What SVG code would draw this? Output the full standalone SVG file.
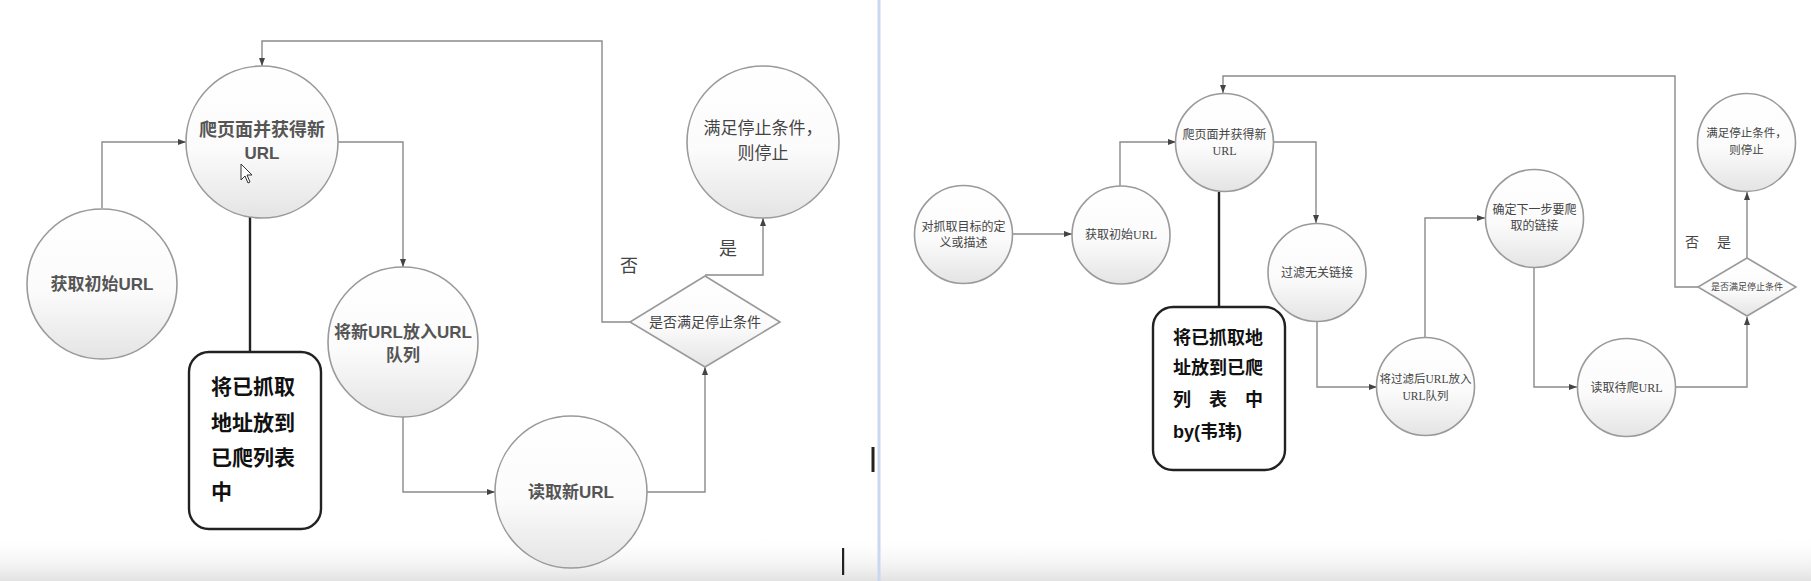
<svg xmlns="http://www.w3.org/2000/svg" width="1811" height="581" viewBox="0 0 1811 581">
<defs>
<linearGradient id="cg" x1="0" y1="0" x2="0" y2="1">
<stop offset="0" stop-color="#ffffff"/>
<stop offset="0.55" stop-color="#fbfbfb"/>
<stop offset="1" stop-color="#e4e4e4"/>
</linearGradient>
<linearGradient id="bg" x1="0" y1="0" x2="0" y2="1">
<stop offset="0" stop-color="#ffffff" stop-opacity="0"/>
<stop offset="1" stop-color="#e2e2e2"/>
</linearGradient>
<marker id="ah" markerUnits="userSpaceOnUse" markerWidth="8" markerHeight="6" refX="8" refY="3" orient="auto">
<path d="M0,0 L8,3 L0,6 z" fill="#444"/>
</marker>
<style>
.nd{fill:url(#cg);stroke:#9a9a9a;stroke-width:1.6}
.cn{fill:none;stroke:#8a8a8a;stroke-width:1.4}
.ar{marker-end:url(#ah)}
.tie{fill:none;stroke:#222;stroke-width:2.4}
.note{fill:#fff;stroke:#222;stroke-width:2.4}
.ts{font-family:"Liberation Sans","Noto Sans CJK SC",sans-serif;fill:#555;text-anchor:middle;font-weight:bold}
.tr{font-family:"Liberation Serif","Noto Sans CJK SC",serif;fill:#444;text-anchor:middle}
.tn{font-family:"Liberation Sans","Noto Sans CJK SC",sans-serif;fill:#111;font-weight:bold}
</style>
</defs>
<rect x="0" y="0" width="1811" height="581" fill="#ffffff"/>
<rect x="0" y="535" width="1811" height="46" fill="url(#bg)"/>
<rect x="877.5" y="0" width="3" height="581" fill="#c9d7ef"/>
<rect x="871.5" y="447" width="3" height="25" fill="#222"/>
<rect x="842" y="548" width="2.2" height="27" fill="#222"/>

<g id="connectors">
<path class="cn ar" d="M102,208 V142 H186"/>
<path class="cn ar" d="M337,142 H403 V267"/>
<path class="cn ar" d="M403,417 V492 H495"/>
<path class="cn ar" d="M647,492 H705 V367"/>
<path class="cn ar" d="M705,275 H763 V218"/>
<path class="cn ar" d="M630,322 H602 V41 H262 V66"/>
<path class="tie" d="M250,217 V352"/>

<path class="cn ar" d="M1013,234 H1072"/>
<path class="cn ar" d="M1120,186 V142 H1176"/>
<path class="cn ar" d="M1273,142 H1316 V223"/>
<path class="cn ar" d="M1317,322 V387 H1377"/>
<path class="cn ar" d="M1425,338 V218 H1485"/>
<path class="cn ar" d="M1534,268 V387 H1577"/>
<path class="cn ar" d="M1676,387 H1747 V317"/>
<path class="cn ar" d="M1747,258 V192"/>
<path class="cn ar" d="M1698,287 H1675 V76 H1223 V93"/>
<path class="tie" d="M1219,192 V307"/>
</g>

<!-- Left panel -->
<g id="L_crawl">
<circle class="nd" cx="262" cy="142" r="76"/>
<text class="ts" x="262" y="136" font-size="18">爬页面并获得新</text>
<text class="ts" x="262" y="159" font-size="17">URL</text>
</g>
<g id="L_init">
<circle class="nd" cx="102" cy="284" r="75"/>
<text class="ts" x="102" y="290" font-size="17">获取初始URL</text>
</g>
<g id="L_queue">
<circle class="nd" cx="403" cy="342" r="75"/>
<text class="ts" x="403" y="338" font-size="17">将新URL放入URL</text>
<text class="ts" x="403" y="361" font-size="17">队列</text>
</g>
<g id="L_read">
<circle class="nd" cx="571" cy="492" r="76"/>
<text class="ts" x="571" y="498" font-size="17">读取新URL</text>
</g>
<g id="L_cond">
<polygon class="nd" points="705,276 780,322 705,367 630,322"/>
<text class="tr" x="705" y="327" font-size="14">是否满足停止条件</text>
</g>
<g id="L_stop">
<circle class="nd" cx="763" cy="142" r="76"/>
<text class="tr" x="763" y="134" font-size="17">满足停止条件，</text>
<text class="tr" x="763" y="159" font-size="17">则停止</text>
</g>
<g id="L_labels">
<text class="tr" x="629" y="272" font-size="18">否</text>
<text class="tr" x="728" y="255" font-size="18">是</text>
</g>
<g id="L_note">
<rect class="note" x="189" y="352" width="132" height="177" rx="20" ry="20"/>
<text class="tn" x="211" y="394" font-size="21">将已抓取</text>
<text class="tn" x="211" y="430" font-size="21">地址放到</text>
<text class="tn" x="211" y="465" font-size="21">已爬列表</text>
<text class="tn" x="211" y="499" font-size="21">中</text>
</g>
<g id="cursor">
<path d="M241,164 L241,180 L245,176 L248,183 L250,182 L247,175 L252,175 Z" fill="#fff" stroke="#333" stroke-width="1"/>
</g>

<!-- Right panel -->
<g id="R_goal">
<circle class="nd" cx="963.5" cy="234.5" r="49"/>
<text class="tr" x="963.5" y="231" font-size="12">对抓取目标的定</text>
<text class="tr" x="963.5" y="247" font-size="12">义或描述</text>
</g>
<g id="R_init">
<circle class="nd" cx="1121" cy="235" r="49"/>
<text class="tr" x="1121" y="239" font-size="12">获取初始URL</text>
</g>
<g id="R_crawl">
<circle class="nd" cx="1224.5" cy="142.5" r="49"/>
<text class="tr" x="1224.5" y="139" font-size="12">爬页面并获得新</text>
<text class="tr" x="1224.5" y="155" font-size="12">URL</text>
</g>
<g id="R_filter">
<circle class="nd" cx="1317" cy="272.5" r="49"/>
<text class="tr" x="1317" y="277" font-size="12">过滤无关链接</text>
</g>
<g id="R_queue">
<circle class="nd" cx="1425.5" cy="386.5" r="49"/>
<text class="tr" x="1425.5" y="383" font-size="11.5">将过滤后URL放入</text>
<text class="tr" x="1425.5" y="400" font-size="11.5">URL队列</text>
</g>
<g id="R_next">
<circle class="nd" cx="1534.5" cy="218.5" r="49"/>
<text class="tr" x="1534.5" y="214" font-size="12">确定下一步要爬</text>
<text class="tr" x="1534.5" y="230" font-size="12">取的链接</text>
</g>
<g id="R_read">
<circle class="nd" cx="1626.5" cy="387.5" r="49"/>
<text class="tr" x="1626.5" y="392" font-size="12">读取待爬URL</text>
</g>
<g id="R_cond">
<polygon class="nd" points="1747,258 1796,287 1747,316 1698,287"/>
<text class="tr" x="1747" y="290" font-size="9">是否满足停止条件</text>
</g>
<g id="R_stop">
<circle class="nd" cx="1746.5" cy="142.5" r="49"/>
<text class="tr" x="1746.5" y="137" font-size="11.5">满足停止条件，</text>
<text class="tr" x="1746.5" y="154" font-size="11.5">则停止</text>
</g>
<g id="R_labels">
<text class="tr" x="1692" y="247" font-size="14">否</text>
<text class="tr" x="1724" y="247" font-size="14">是</text>
</g>
<g id="R_note">
<rect class="note" x="1153" y="307" width="132" height="163" rx="20" ry="20"/>
<text class="tn" x="1173" y="344" font-size="18">将已抓取地</text>
<text class="tn" x="1173" y="374" font-size="18">址放到已爬</text>
<text class="tn" x="1173" y="406" font-size="18" textLength="90" lengthAdjust="spacing">列表中</text>
<text class="tn" x="1173" y="438" font-size="18">by(韦玮)</text>
</g>
</svg>
